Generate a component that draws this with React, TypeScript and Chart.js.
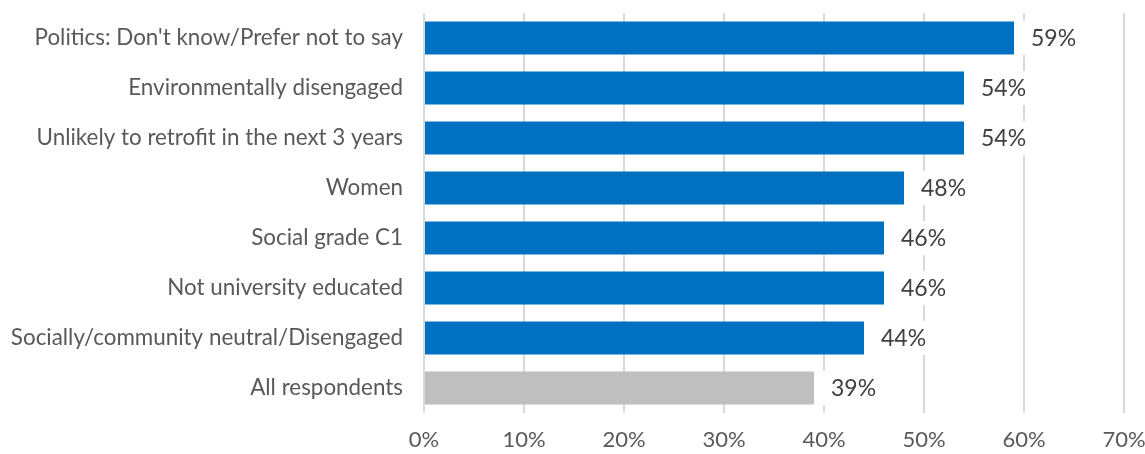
import React, { useEffect, useRef } from "react";
import { Chart, registerables } from "chart.js";

Chart.register(...registerables);

const categories = [
  "Politics: Don't know/Prefer not to say",
  "Environmentally disengaged",
  "Unlikely to retrofit in the next 3 years",
  "Women",
  "Social grade C1",
  "Not university educated",
  "Socially/community neutral/Disengaged",
  "All respondents",
];
const values = [59, 54, 54, 48, 46, 46, 44, 39];
const barColors = ["#0070C0", "#0070C0", "#0070C0", "#0070C0", "#0070C0", "#0070C0", "#0070C0", "#BFBFBF"];
const xTicks = [0, 10, 20, 30, 40, 50, 60, 70];

const FONT = "Lato, 'Noto Sans', sans-serif";

const dataLabelPlugin = {
  id: "dataLabels",
  afterDatasetsDraw(chart: any) {
    const ctx = chart.ctx;
    const meta = chart.getDatasetMeta(0);
    ctx.save();
    ctx.font = `23px ${FONT}`;
    ctx.textBaseline = "middle";
    ctx.textAlign = "left";
    meta.data.forEach((bar: any, i: number) => {
      const text = `${values[i]}%`;
      const w = ctx.measureText(text).width;
      const x0 = bar.x + 4;
      ctx.fillStyle = "#ffffff";
      ctx.fillRect(x0, bar.y - 17, w + 22, 34);
      ctx.fillStyle = "#404040";
      ctx.fillText(text, bar.x + 17, bar.y + 1);
    });
    ctx.restore();
  },
};

export default function App() {
  const ref = useRef<HTMLCanvasElement | null>(null);
  useEffect(() => {
    document.body.style.margin = "0";
    const chart = new Chart(ref.current!, {
      type: "bar",
      data: {
        labels: categories,
        datasets: [
          {
            data: values,
            backgroundColor: barColors,
            borderWidth: 0,
            barPercentage: 0.66,
            categoryPercentage: 1,
          },
        ],
      },
      options: {
        indexAxis: "y",
        responsive: false,
        animation: false,
        layout: { padding: { top: 13, right: 21, left: 0, bottom: 0 } },
        plugins: { legend: { display: false }, tooltip: { enabled: false } },
        scales: {
          x: {
            min: 0,
            max: 70,
            afterBuildTicks: (scale: any) => {
              scale.ticks = xTicks.map((v) => ({ value: v }));
            },
            afterFit: (scale: any) => {
              scale.height = 41;
              scale.paddingLeft = 0;
              scale.paddingRight = 0;
            },
            grid: { color: "#d9d9d9", lineWidth: 2, drawTicks: false },
            border: { display: false },
            ticks: {
              padding: 14,
              color: "#595959",
              font: { family: FONT, size: 22 },
              callback: (v: any) => `${v}%`,
            },
          },
          y: {
            afterFit: (scale: any) => {
              scale.width = 424;
              scale.paddingTop = 0;
              scale.paddingBottom = 0;
            },
            grid: { display: false, drawTicks: false },
            border: { display: false },
            ticks: {
              padding: 21,
              color: "#595959",
              font: { family: FONT, size: 22.4 },
            },
          },
        },
      },
      plugins: [dataLabelPlugin],
    });
    return () => chart.destroy();
  }, []);
  return (
    <div style={{ position: "absolute", left: 0, top: 0, width: 1145, height: 454 }}>
      <canvas ref={ref} width={1145} height={454} />
    </div>
  );
}
